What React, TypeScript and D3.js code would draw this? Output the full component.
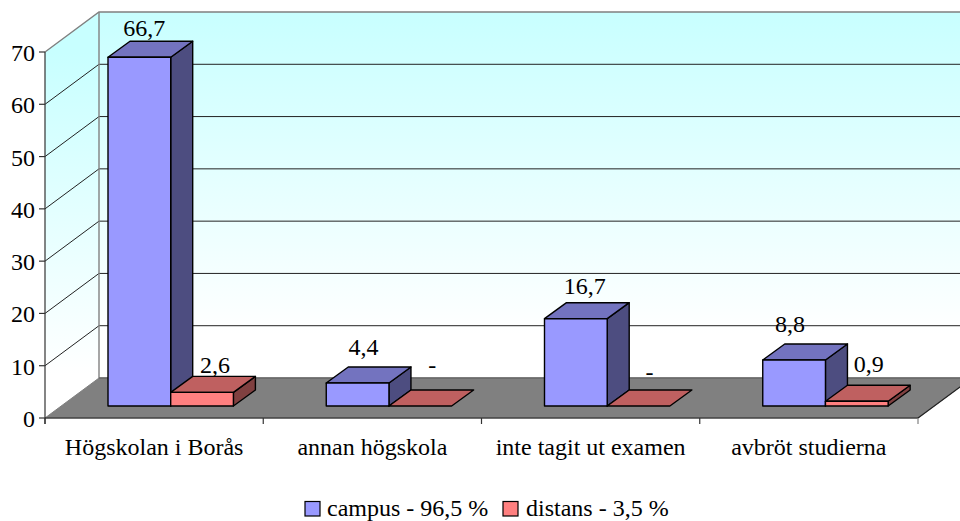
import React from "react";
import * as d3 from "d3";

const categories = ["Högskolan i Borås", "annan högskola", "inte tagit ut examen", "avbröt studierna"];
const campus = [66.7, 4.4, 16.7, 8.8];
const distans = [2.6, 0, 0, 0.9];
const campusLabels = ["66,7", "4,4", "16,7", "8,8"];
const distansLabels = ["2,6", "-", "-", "0,9"];
const yTicks = [0, 10, 20, 30, 40, 50, 60, 70];
const legendItems = ["campus - 96,5 %", "distans - 3,5 %"];

const W = 960, H = 521;
const y = d3.scaleLinear().domain([0, 70]).range([418, 52]);
const x = d3.scaleBand<number>().domain([0, 1, 2, 3]).range([45, 918]);
const wall = { dx: 54, dy: -40 };
const barDepth = { dx: 22, dy: -16 };
const barBase = { dx: 16, dy: -12 };
const barW = 62.7;
const barInset = 47;
const h = (v: number) => y(0) - y(v);
const font = "'Liberation Serif', 'Times New Roman', serif";
const pts = (a: number[][]) => a.map((p) => p.join(",")).join(" ");

const campusLabelNudge = [[-11, -5], [-10, -12], [-7, -9], [-20, -12]];
const distansLabelNudge = [[3, -3], [2, -17], [1, -10], [2, -13]];

function Bar({ left, v, face, top, side }: { left: number; v: number; face: string; top: string; side: string }) {
  const b = y(0) + barBase.dy;
  const t = b - h(v);
  const r = left + barW;
  const { dx, dy } = barDepth;
  const common = { stroke: "#000", strokeWidth: 1.4, strokeLinejoin: "round" as const };
  return (
    <g>
      {v > 0 && <polygon points={pts([[r, t], [r + dx, t + dy], [r + dx, b + dy], [r, b]])} fill={side} {...common} />}
      <polygon points={pts([[left, t], [r, t], [r + dx, t + dy], [left + dx, t + dy]])} fill={top} {...common} />
      {v > 0 && <rect x={left} y={t} width={barW} height={h(v)} fill={face} {...common} />}
    </g>
  );
}

export default function App() {
  const x0 = y.range()[0];
  const left = x.range()[0];
  const right = x.range()[1];
  const backX = left + wall.dx;
  const topBack = y(70) + wall.dy;
  const floorBack = y(0) + wall.dy;
  return (
    <svg width={W} height={H} style={{ position: "absolute", left: 0, top: 0 }} fontFamily={font} fontSize={24} fill="#000">
      <defs>
        <linearGradient id="wallGrad" gradientUnits="userSpaceOnUse" x1="0" y1={topBack} x2="0" y2={floorBack}>
          <stop offset="0" stopColor="#c8ffff" />
          <stop offset="0.88" stopColor="#ffffff" />
          <stop offset="1" stopColor="#ffffff" />
        </linearGradient>
        <linearGradient id="sideGrad" gradientUnits="userSpaceOnUse" x1="0" y1={y(70)} x2="0" y2={y(0)}>
          <stop offset="0" stopColor="#c8ffff" />
          <stop offset="0.88" stopColor="#ffffff" />
          <stop offset="1" stopColor="#ffffff" />
        </linearGradient>
      </defs>
      {/* walls */}
      <rect x={backX} y={topBack} width={W - backX} height={floorBack - topBack} fill="url(#wallGrad)" />
      <polygon points={pts([[left, y(70)], [backX, topBack], [backX, floorBack], [left, x0]])} fill="url(#sideGrad)" />
      {/* gridlines */}
      {yTicks.slice(1, -1).map((t) => (
        <polyline key={t} points={pts([[left, y(t)], [backX, y(t) + wall.dy], [W, y(t) + wall.dy]])} fill="none" stroke="#222" strokeWidth={1} />
      ))}
      {/* wall border */}
      <polyline points={pts([[W, topBack], [backX, topBack], [left, y(70)]])} fill="none" stroke="#808080" strokeWidth={1.4} />
      <line x1={backX} x2={backX} y1={topBack} y2={floorBack} stroke="#808080" strokeWidth={1.4} />
      {/* floor */}
      <polygon points={pts([[left, x0], [backX, floorBack], [right + wall.dx, floorBack], [right, x0]])} fill="#808080" stroke="#808080" />
      <line x1={backX} x2={W} y1={floorBack} y2={floorBack} stroke="#666" strokeWidth={1.4} />
      <line x1={right} x2={right + wall.dx} y1={x0} y2={floorBack} stroke="#222" strokeWidth={1.2} />
      {/* axes */}
      <line x1={left} x2={left} y1={y(70)} y2={x0 + 6} stroke="#333" strokeWidth={1.2} />
      <line x1={left} x2={right} y1={x0} y2={x0} stroke="#222" strokeWidth={1.2} />
      {yTicks.map((t) => (
        <g key={t}>
          <line x1={left - 6} x2={left} y1={y(t)} y2={y(t)} stroke="#333" strokeWidth={1.2} />
          <text x={left - 10} y={y(t) + 9} textAnchor="end">{t}</text>
        </g>
      ))}
      {[...x.domain(), 4].map((i) => {
        const px = i < 4 ? (x(i) as number) : right;
        return <line key={i} x1={px} x2={px} y1={x0} y2={x0 + 6} stroke={i === 4 ? "#808080" : "#333"} strokeWidth={1.2} />;
      })}
      {/* bars */}
      {categories.map((c, i) => {
        const start = (x(i) as number) + barBase.dx + barInset;
        return (
          <g key={c}>
            <Bar left={start} v={campus[i]} face="#9999ff" top="#7373bf" side="#4d4d80" />
            <Bar left={start + barW} v={distans[i]} face="#ff8080" top="#bf6060" side="#804040" />
          </g>
        );
      })}
      {/* labels */}
      {categories.map((c, i) => {
        const start = (x(i) as number) + barBase.dx + barInset;
        const b = y(0) + barBase.dy + barDepth.dy;
        return (
          <g key={c} textAnchor="middle">
            <text x={start + barW / 2 + barDepth.dx / 2 + 5 + campusLabelNudge[i][0]} y={b - h(campus[i]) + campusLabelNudge[i][1]}>{campusLabels[i]}</text>
            <text x={start + barW * 1.5 + barDepth.dx / 2 - 1 + distansLabelNudge[i][0]} y={b - h(distans[i]) + distansLabelNudge[i][1]}>{distansLabels[i]}</text>
            <text x={(x(i) as number) + x.bandwidth() / 2} y={455}>{c}</text>
          </g>
        );
      })}
      {/* legend */}
      <g>
        <rect x={305} y={501.5} width={15} height={14.5} fill="#9999ff" stroke="#000" strokeWidth={1.2} />
        <text x={327} y={515.5}>{legendItems[0]}</text>
        <rect x={503} y={501.5} width={15} height={14.5} fill="#ff8080" stroke="#000" strokeWidth={1.2} />
        <text x={526} y={515.5}>{legendItems[1]}</text>
      </g>
    </svg>
  );
}
